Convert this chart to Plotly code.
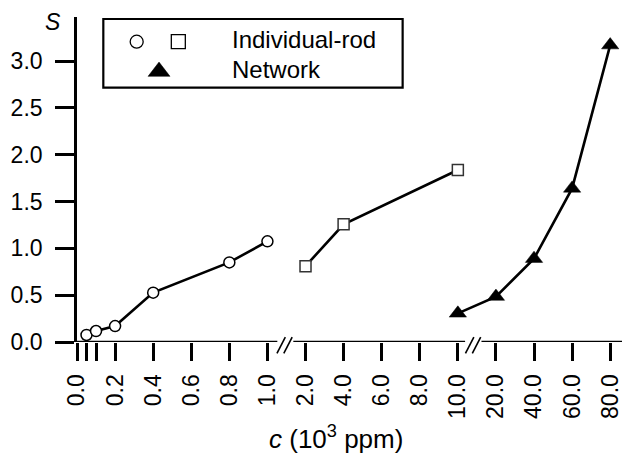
import plotly.graph_objects as go

# ---------------- data ----------------
c_rod_low = [0.05, 0.1, 0.2, 0.4, 0.8, 1.0]
s_rod_low = [0.075, 0.117, 0.17, 0.527, 0.85, 1.075]

c_rod_high = [2.0, 4.0, 10.0]
s_rod_high = [0.81, 1.257, 1.836]

c_network = [10.0, 20.0, 40.0, 60.0, 80.0]
s_network = [0.306, 0.485, 0.89, 1.64, 3.17]

x_tick_values = [0.0, 0.2, 0.4, 0.6, 0.8, 1.0,
                 2.0, 4.0, 6.0, 8.0, 10.0, 20.0, 40.0, 60.0, 80.0]
x_tick_labels = ["0.0", "0.2", "0.4", "0.6", "0.8", "1.0",
                 "2.0", "4.0", "6.0", "8.0", "10.0", "20.0", "40.0", "60.0", "80.0"]
x_minor_tick_values = [0.05, 0.1]
y_tick_values = [0.0, 0.5, 1.0, 1.5, 2.0, 2.5, 3.0]

legend_rod_label = "Individual-rod"
legend_net_label = "Network"


# broken x axis: three linear segments laid side by side
def to_axis(c):
    if c <= 1.0:
        return c / 0.2            # 0 .. 5
    if c <= 10.0:
        return 6 + (c - 2.0) / 2  # 6 .. 10
    return 10 + c / 20.0          # 11 .. 14


FONT = "Liberation Sans, Arial, Helvetica, sans-serif"
BLACK = "black"

fig = go.Figure()

fig.add_trace(go.Scatter(
    x=[to_axis(c) for c in c_rod_low], y=s_rod_low, mode="lines+markers",
    line=dict(color=BLACK, width=2.6),
    marker=dict(symbol="circle", size=11, color="white",
                line=dict(color=BLACK, width=1.5)),
    showlegend=False, cliponaxis=False))

fig.add_trace(go.Scatter(
    x=[to_axis(c) for c in c_rod_high], y=s_rod_high, mode="lines+markers",
    line=dict(color=BLACK, width=2.6),
    marker=dict(symbol="square", size=11, color="white",
                line=dict(color="#333", width=1.5)),
    showlegend=False, cliponaxis=False))

fig.add_trace(go.Scatter(
    x=[to_axis(c) for c in c_network], y=s_network, mode="lines+markers",
    line=dict(color=BLACK, width=2.6),
    marker=dict(symbol="triangle-up", size=15, color=BLACK,
                line=dict(color=BLACK, width=0.5)),
    showlegend=False, cliponaxis=False))

# legend symbols on a hidden overlay axis (0..1 over the plot area)
fig.add_trace(go.Scatter(
    x=[0.1095], y=[0.924], mode="markers", xaxis="x2", yaxis="y2",
    marker=dict(symbol="circle", size=13, color="white", line=dict(color=BLACK, width=1.3)),
    showlegend=False, hoverinfo="skip"))
fig.add_trace(go.Scatter(
    x=[0.1859], y=[0.924], mode="markers", xaxis="x2", yaxis="y2",
    marker=dict(symbol="square", size=14, color="white", line=dict(color=BLACK, width=1.3)),
    showlegend=False, hoverinfo="skip"))
fig.add_trace(go.Scatter(
    x=[0.1505], y=[0.832], mode="markers", xaxis="x2", yaxis="y2",
    marker=dict(symbol="triangle-up", size=19, color=BLACK, line=dict(color=BLACK, width=0.5)),
    showlegend=False, hoverinfo="skip"))

x_max = 14.31
shapes = []
# x-axis line, interrupted at the two breaks
for a, b in [(0.0, 5.26), (5.68, 10.19), (10.62, x_max)]:
    shapes.append(dict(type="line", xref="x", yref="y", x0=a, x1=b, y0=0, y1=0,
                       line=dict(color=BLACK, width=2.6)))
# break marks "//"
for centre in [5.45, 10.40]:
    for dx in [-0.09, 0.09]:
        shapes.append(dict(type="line", xref="x", yref="paper",
                           x0=centre + dx - 0.11, x1=centre + dx + 0.11,
                           y0=-0.035, y1=0.015,
                           line=dict(color=BLACK, width=1.6)))
# legend frame
shapes.append(dict(type="rect", xref="x2", yref="y2",
                   x0=0.0483, x1=0.5975, y0=0.7825, y1=0.9938,
                   line=dict(color=BLACK, width=2.2), fillcolor="rgba(0,0,0,0)"))

annotations = [
    dict(text=legend_rod_label, xref="x2", yref="y2", x=0.2814, y=0.93,
         xanchor="left", yanchor="middle", showarrow=False,
         font=dict(family=FONT, size=24, color=BLACK)),
    dict(text=legend_net_label, xref="x2", yref="y2", x=0.2814, y=0.84,
         xanchor="left", yanchor="middle", showarrow=False,
         font=dict(family=FONT, size=24, color=BLACK)),
    dict(text="<i>S</i>", xref="paper", yref="paper", x=-0.044, y=0.985,
         xanchor="center", yanchor="middle", showarrow=False,
         font=dict(family=FONT, size=23, color=BLACK)),
    dict(text="<i>c</i> (10<sup>3</sup> ppm)", xref="paper", yref="paper",
         x=0.476, y=-0.295, xanchor="center", yanchor="middle", showarrow=False,
         font=dict(family=FONT, size=26, color=BLACK)),
]

fig.update_layout(
    width=625, height=454,
    margin=dict(l=77, r=3, t=17, b=112),
    paper_bgcolor="white", plot_bgcolor="white",
    font=dict(family=FONT, size=23, color=BLACK),
    xaxis=dict(range=[0, x_max], showgrid=False, zeroline=False, showline=False,
               tickmode="array", tickvals=[to_axis(v) for v in x_tick_values],
               ticktext=x_tick_labels, tickangle=-90,
               ticks="outside", ticklen=18, tickwidth=2.5, tickcolor=BLACK,
               ticklabelstandoff=4,
               minor=dict(tickmode="array",
                          tickvals=[to_axis(v) for v in x_minor_tick_values],
                          ticks="outside", ticklen=18, tickwidth=2.5,
                          tickcolor=BLACK, showgrid=False),
               tickfont=dict(family=FONT, size=23, color=BLACK)),
    yaxis=dict(range=[0, 3.47], showgrid=False, zeroline=False,
               showline=True, linewidth=2.6, linecolor=BLACK,
               tickmode="array", tickvals=y_tick_values, tickformat=".1f",
               ticks="outside", ticklen=19, tickwidth=2.5, tickcolor=BLACK,
               ticklabelstandoff=8,
               tickfont=dict(family=FONT, size=23, color=BLACK)),
    xaxis2=dict(range=[0, 1], overlaying="x", visible=False, fixedrange=True),
    yaxis2=dict(range=[0, 1], overlaying="y", visible=False, fixedrange=True),
    shapes=shapes, annotations=annotations,
)

fig.write_html(
    "out.html",
    config={"displayModeBar": False},
    post_script="document.body.style.margin='0';document.body.style.padding='0';"
                "document.documentElement.style.overflow='hidden';",
)
